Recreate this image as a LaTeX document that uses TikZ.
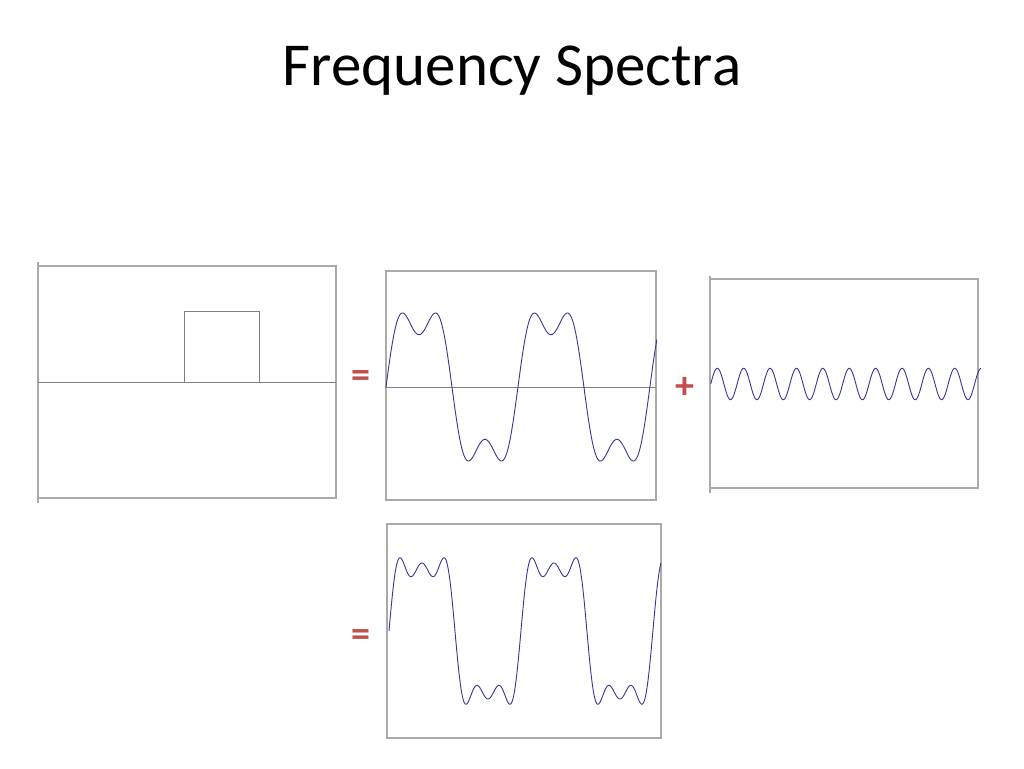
\documentclass[tikz,border=0pt]{standalone}
\usepackage{fontspec}
\setmainfont{Carlito}
\usepackage{tikz}

\definecolor{framegray}{RGB}{170,170,170}
\definecolor{axisgray}{RGB}{128,128,128}
\definecolor{wavecol}{RGB}{55,55,150}
\definecolor{signred}{RGB}{192,80,77}

\tikzset{
  frame/.style={draw=framegray, line width=1.3pt},
  axisline/.style={draw=axisgray, line width=1pt},
  wave/.style={draw=wavecol, line width=0.9pt, smooth},
  sign/.style={text=signred, font=\fontsize{38}{38}\selectfont\bfseries, inner sep=0pt}
}

\begin{document}
\begin{tikzpicture}[x=1pt,y=-1pt]
    \useasboundingbox[fill=white] (0,0) rectangle (1024,768);
    \node (title) [anchor=base, font=\fontsize{61}{61}\selectfont] at (512,85) {Frequency Spectra};
    % pulse
    \draw[frame] (38,266) rectangle (336,498);
    \draw[frame] (38,262) -- (38,503);
    \draw[axisline] (38,382) -- (336,382);
    \draw[axisline] (184,382) -- (184,311) -- (259,311) -- (259,382);
    \node (eqa) [sign] at (361,379) {=};
    % first and third harmonic
    \draw[frame] (386,271) rectangle (656,500);
    \draw[axisline] (386,387) -- (656,387);
    \draw[wave] plot[domain=0:739, samples=400] ({386+0.36652*\x},{387-78.5*(sin(\x)+sin(3*\x)/3)});
    \node (plus) [sign] at (685,388) {+};
    % fifth harmonic
    \draw[frame] (710,279) rectangle (978,488);
    \draw[frame] (710,276) -- (710,493);
    \draw[wave] plot[domain=0:737, samples=400] ({710.7+0.36652*\x},{384-15.7*sin(5*\x)});
    % sum
    \node (eqb) [sign] at (361,638) {=};
    \draw[frame] (387,524) rectangle (661,738);
    \draw[wave] plot[domain=0:742, samples=500] ({389+0.36652*\x},{631-78.5*(sin(\x)+sin(3*\x)/3+sin(5*\x)/5)});
\end{tikzpicture}
\end{document}
